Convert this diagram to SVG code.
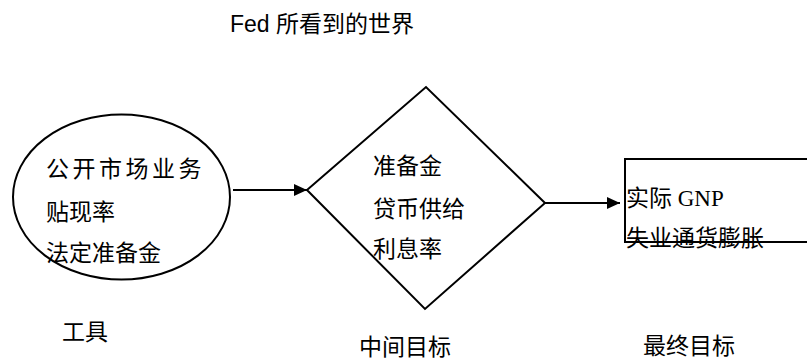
<svg xmlns="http://www.w3.org/2000/svg" width="807" height="361" viewBox="0 0 807 361">
<defs>
<style>
.t{font-family:"Liberation Sans","Noto Sans CJK SC",sans-serif;font-size:23px;fill:#000}
.s{font-family:"Liberation Serif","Noto Sans CJK SC",serif;font-size:23px;fill:#000}
.shape{fill:#fff;stroke:#000;stroke-width:2}
.conn{stroke:#000;stroke-width:2;fill:none}
</style>
<marker id="ah" viewBox="0 0 13 12" refX="13" refY="6" markerWidth="13" markerHeight="12" markerUnits="userSpaceOnUse" orient="auto">
<path d="M0,0 L13,6 L0,12 Z" fill="#000"/>
</marker>
</defs>
<rect width="807" height="361" fill="#fff"/>
<text class="t" x="230" y="32">Fed 所看到的世界</text>
<g id="tools">
<ellipse class="shape" cx="121.5" cy="197" rx="108.5" ry="82.5"/>
<text class="t" x="46" y="177" letter-spacing="3.5">公开市场业务</text>
<text class="t" x="46" y="220">贴现率</text>
<text class="t" x="46" y="261">法定准备金</text>
</g>
<g id="intermediate">
<polygon class="shape" points="307,190 426,87 545,203 425,309"/>
<text class="t" x="373" y="174">准备金</text>
<text class="t" x="373" y="217">贷币供给</text>
<text class="t" x="373" y="257">利息率</text>
</g>
<g id="final">
<polyline class="shape" points="812,159 625,159 625,242 812,242"/>
<text class="s" x="626" y="206">实际 GNP</text>
<text class="t" x="626" y="246">失业通货膨胀</text>
</g>
<g id="connectors">
<line class="conn" x1="233" y1="190" x2="307" y2="190" marker-end="url(#ah)"/>
<line class="conn" x1="545" y1="203" x2="620" y2="203" marker-end="url(#ah)"/>
</g>
<g id="labels">
<text class="t" x="62" y="340">工具</text>
<text class="t" x="359" y="355">中间目标</text>
<text class="t" x="643" y="354">最终目标</text>
</g>
</svg>
